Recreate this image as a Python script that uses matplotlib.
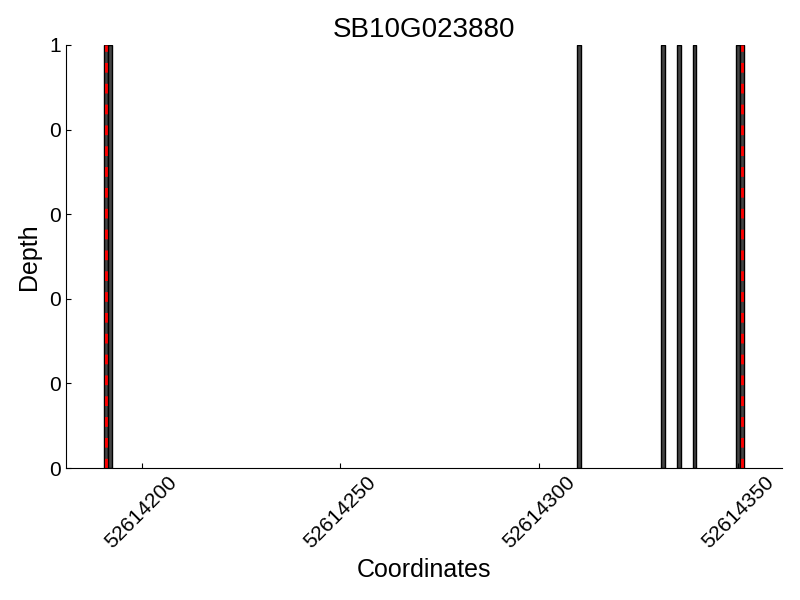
import matplotlib
matplotlib.use("Agg")
import matplotlib.pyplot as plt
from matplotlib.ticker import FormatStrFormatter

plt.rcParams['font.family'] = ['Liberation Sans', 'DejaVu Sans']

# read coverage positions (depth 1 each)
positions = [52614191, 52614192, 52614310, 52614331, 52614335, 52614339, 52614350, 52614351]
depths = [1, 1, 1, 1, 1, 1, 1, 1]
gene_bounds = [52614191, 52614351]
gene_name = "SB10G023880"
xticks = [52614200, 52614250, 52614300, 52614350]

fig = plt.figure(figsize=(8, 6), dpi=100)
ax = fig.add_axes([0.0825, 0.22, 0.895, 0.705])

ax.bar(positions, depths, width=1, color='#444444', edgecolor='black', linewidth=1)
for b in gene_bounds:
    ax.axvline(b, color='red', linestyle=(0, (3.5, 4)), linewidth=2)

ax.set_xlim(52614181, 52614361)
ax.set_ylim(0, 1)
ax.set_xticks(xticks)
ax.xaxis.set_major_formatter(FormatStrFormatter('%d'))
ax.yaxis.set_major_formatter(FormatStrFormatter('%d'))
ax.tick_params(direction='in', labelsize=15)
plt.setp(ax.get_xticklabels(), rotation=45)

for s in ['top', 'right']:
    ax.spines[s].set_visible(False)

ax.set_title(gene_name, fontsize=20)
ax.set_xlabel('Coordinates', fontsize=18)
ax.set_ylabel('Depth', fontsize=18, labelpad=6)

fig.savefig('out.png', dpi=100)
